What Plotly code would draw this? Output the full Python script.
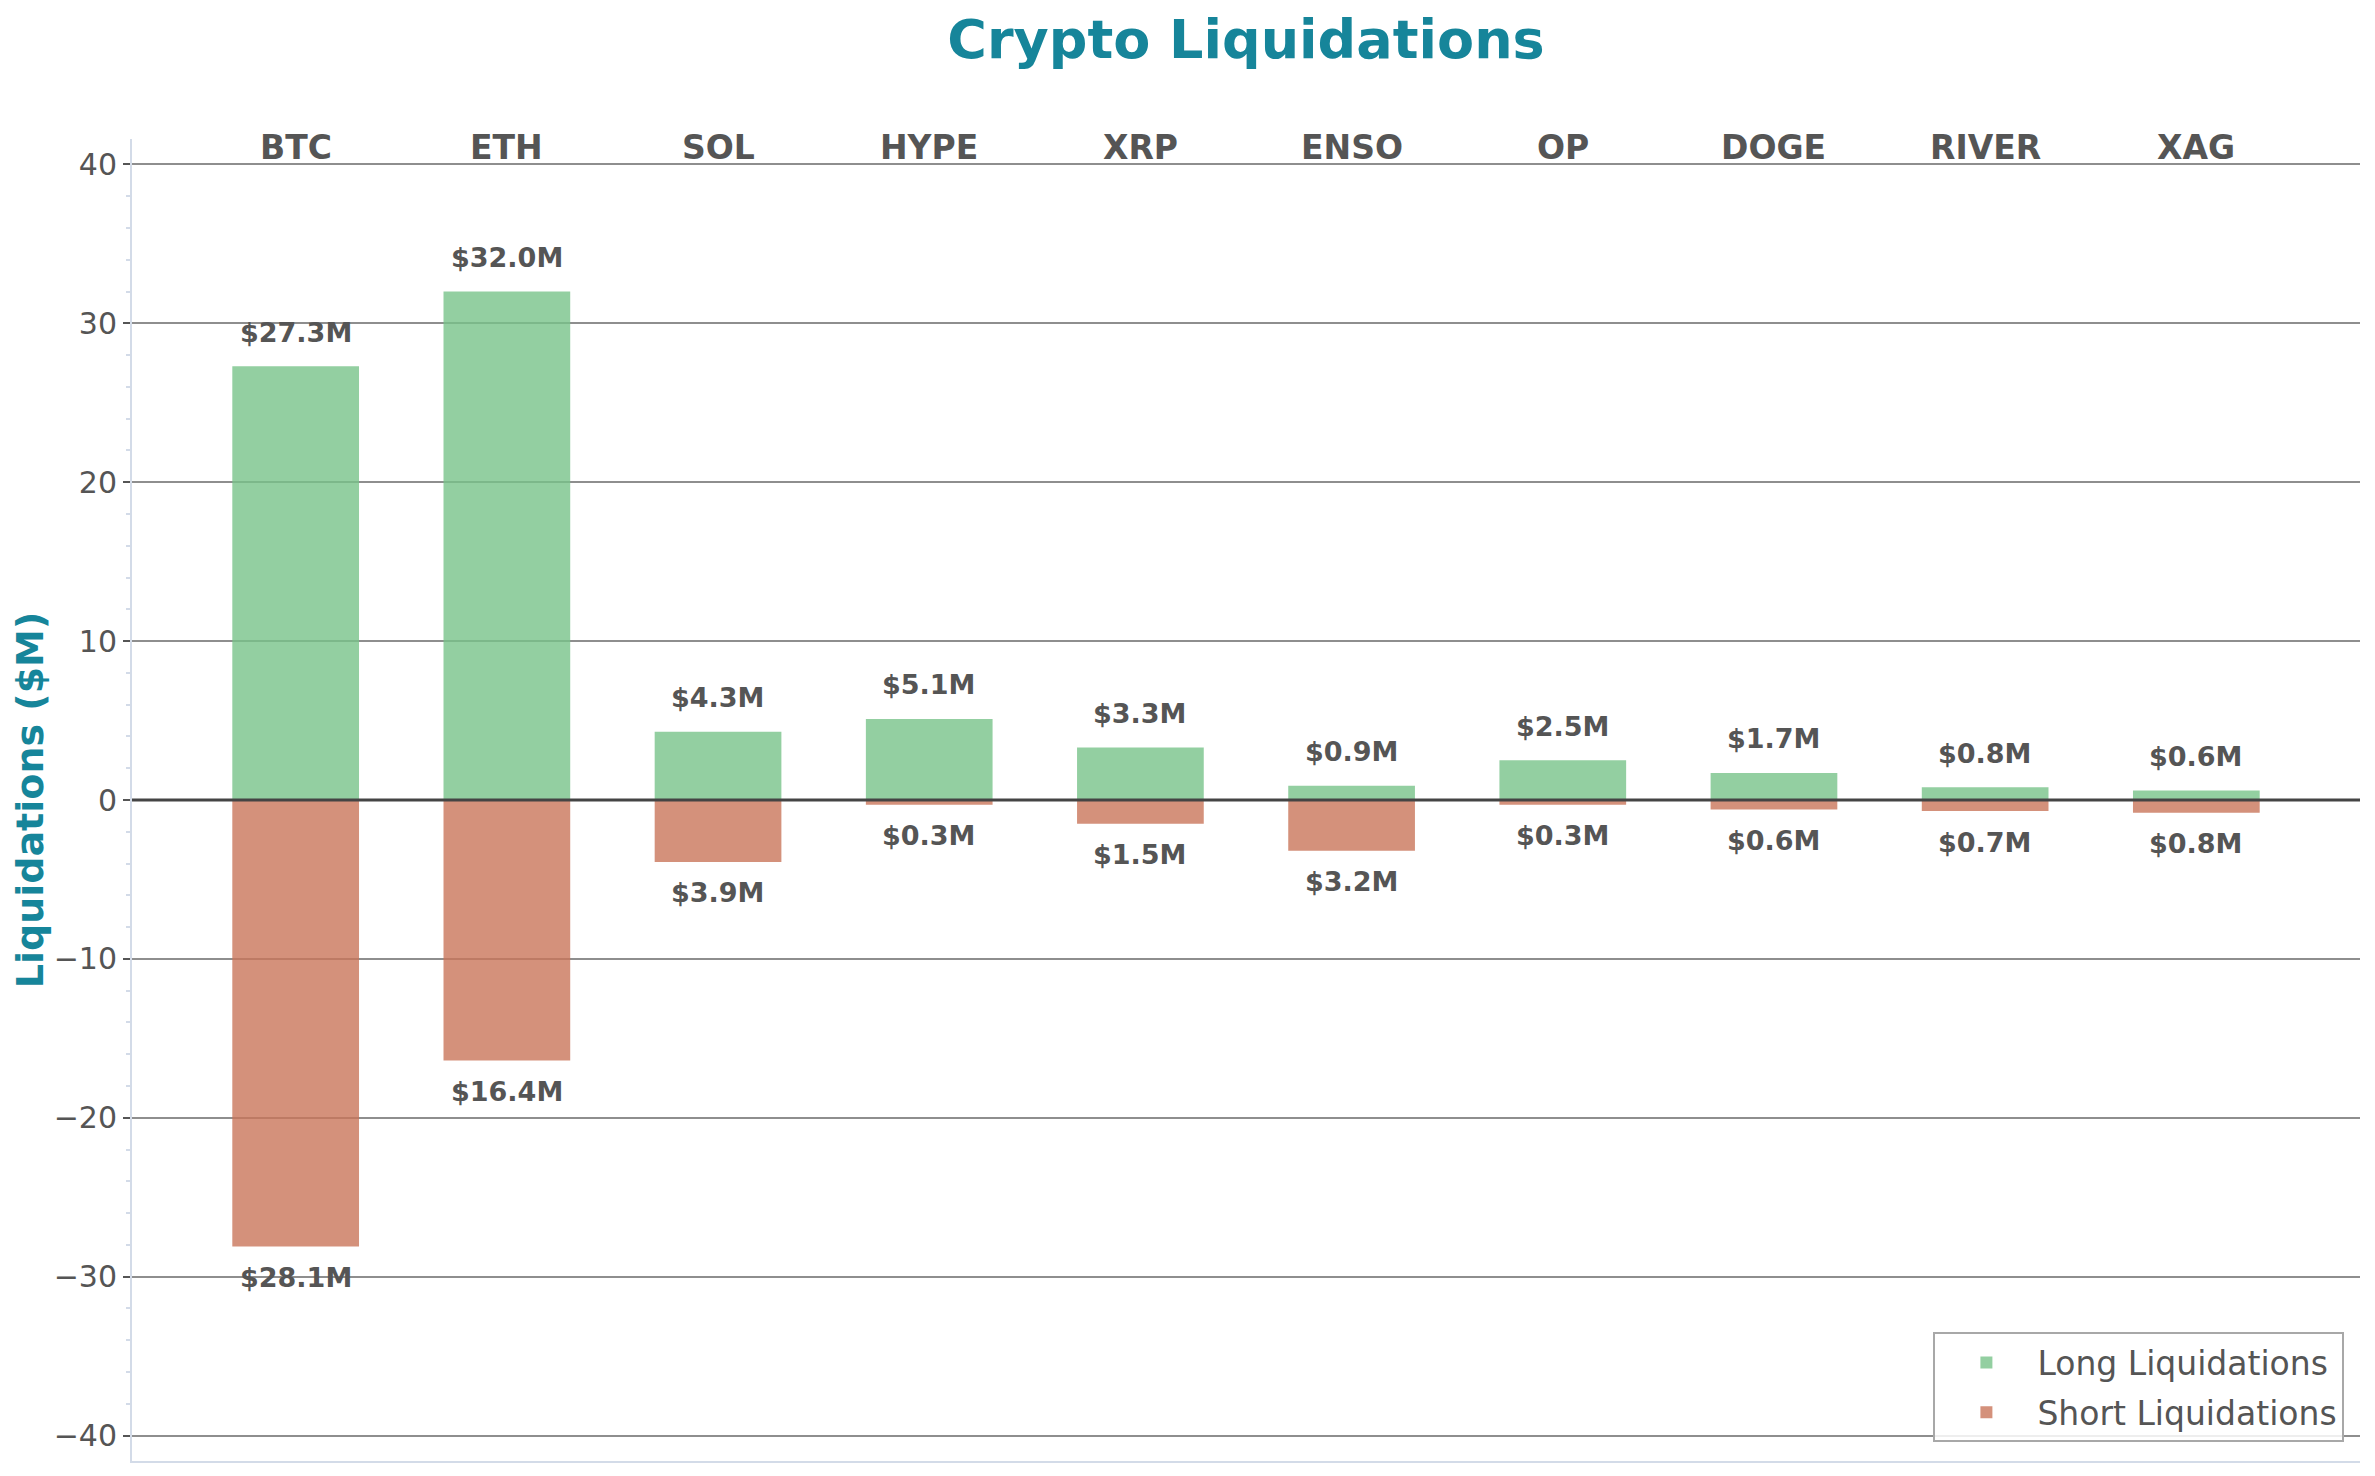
import plotly.graph_objects as go

# liquidations per coin, $M
coins = ["BTC", "ETH", "SOL", "HYPE", "XRP", "ENSO", "OP", "DOGE", "RIVER", "XAG"]
long_liq = [27.3, 32.0, 4.3, 5.1, 3.3, 0.9, 2.5, 1.7, 0.8, 0.6]
short_liq = [28.1, 16.4, 3.9, 0.3, 1.5, 3.2, 0.3, 0.6, 0.7, 0.8]

yticks = [-40, -30, -20, -10, 0, 10, 20, 30, 40]

font = "DejaVu Sans"
txt = "#555555"
teal = "#16859a"
light = "#d3dbe8"

fig = go.Figure()

fig.add_trace(go.Bar(x=coins, y=long_liq, name="Long Liquidations", legendgroup="long",
                     width=0.6, marker=dict(color="rgba(120,195,137,0.8)", line=dict(width=0))))
fig.add_trace(go.Bar(x=coins, y=[-v for v in short_liq], name="Short Liquidations", legendgroup="short",
                     width=0.6, marker=dict(color="rgba(201,118,90,0.8)", line=dict(width=0))))

# value labels
for c, v in zip(coins, long_liq):
    fig.add_annotation(x=c, y=v, text="$%.1fM" % v, showarrow=False, yshift=34,
                       font=dict(family=font, size=27, color=txt, weight="bold"))
for c, v in zip(coins, short_liq):
    fig.add_annotation(x=c, y=-v, text="$%.1fM" % v, showarrow=False, yshift=-31,
                       font=dict(family=font, size=27, color=txt, weight="bold"))

# coin names along the top
for c in coins:
    fig.add_annotation(x=c, y=40, text=c, showarrow=False, yshift=17,
                       font=dict(family=font, size=33, color=txt, weight="bold"))

# zero line on top of the bars
fig.add_shape(type="line", xref="paper", x0=0, x1=1, yref="y", y0=0, y1=0,
              line=dict(color="#444444", width=3), layer="above")

# page body has an 8px margin, so the figure is 16px smaller and margins shifted
fig.update_layout(
    width=2359, height=1460,
    margin=dict(l=124, r=7, t=131, b=7),
    paper_bgcolor="white", plot_bgcolor="white",
    barmode="relative",
    font=dict(family=font, color=txt),
    title=dict(text="Crypto Liquidations", x=0.5, xref="paper", xanchor="center",
               y=1 - 31 / 1460, yref="container", yanchor="middle",
               font=dict(family=font, size=54, color=teal, weight="bold")),
    legend=dict(x=0.993, y=0.014, xanchor="right", yanchor="bottom",
                bgcolor="rgba(255,255,255,0.85)", bordercolor="#a8a8a8", borderwidth=2,
                itemwidth=92, tracegroupgap=4,
                font=dict(family=font, size=33, color=txt)),
    showlegend=True,
)

fig.update_xaxes(range=[-0.775, 9.775], showticklabels=False, ticks="",
                 showgrid=False, zeroline=False, showline=True, linecolor=light, linewidth=2)

fig.update_yaxes(range=[-41.6, 41.6], tickvals=yticks, ticks="outside", ticklen=7,
                 tickwidth=1.5, tickcolor=txt, tickfont=dict(family=font, size=30, color=txt),
                 showgrid=True, gridcolor="#8e8e8e", gridwidth=1.5, zeroline=False,
                 showline=True, linecolor=light, linewidth=2,
                 minor=dict(dtick=2, ticks="outside", ticklen=4, tickcolor=light, showgrid=False),
                 title=dict(text="Liquidations ($M)", standoff=10,
                            font=dict(family=font, size=38, color=teal, weight="bold")))

fig.write_html("out.html")
